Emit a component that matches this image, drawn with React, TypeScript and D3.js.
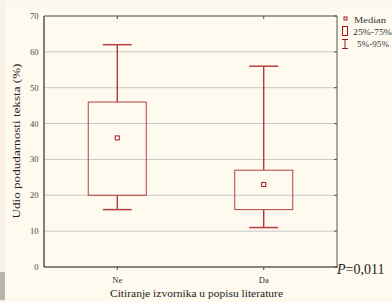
import React from "react";
import * as d3 from "d3";

const categories = ["Ne", "Da"];
const q25 = [20, 16];
const q75 = [46, 27];
const medians = [36, 23];
const p5 = [16, 11];
const p95 = [62, 56];
const yTicks = [0, 10, 20, 30, 40, 50, 60, 70];
const legendItems = ["Median", "25%-75%", "5%-95%"];

const W = 392, H = 302;
const M = { left: 44, right: 337, top: 16, bottom: 267 };
const FONT = "'Liberation Serif', 'DejaVu Serif', serif";

export default function App() {
  const x = d3.scaleBand<string>().domain(categories).range([M.left, M.right]).padding(0);
  const y = d3.scaleLinear().domain([0, 70]).range([M.bottom, M.top]);
  const boxW = 58;
  const capW = 29;
  const boxColor = "#b5403f";
  const whiskColor = "#a01818";
  return (
    <svg width={W} height={H} style={{ position: "absolute", left: 0, top: 0 }} fontFamily={FONT}>
      <rect x={0} y={0} width={W} height={H} fill="#fefaf0" />
      <rect x={0} y={0} width={W} height={7} fill="#fcf8f2" />
      <rect x={0} y={0} width={5} height={H} fill="#fbf1e6" />
      <rect x={0} y={272} width={5} height={28} fill="#b8b4ae" />
      {yTicks.filter(t => t > 0 && t < 70).map(t => (
        <line key={t} x1={M.left} x2={M.right} y1={y(t)} y2={y(t)} stroke="#c8c8c8" strokeWidth={1} />
      ))}
      <line x1={M.left} x2={M.right} y1={M.top} y2={M.top} stroke="#444" strokeWidth={1} />
      <line x1={M.right} x2={M.right} y1={M.top} y2={M.bottom} stroke="#555" strokeWidth={1} />
      <line x1={M.left} x2={M.left} y1={M.top} y2={M.bottom} stroke="#555" strokeWidth={1.5} />
      <line x1={M.left} x2={M.right + 1} y1={M.bottom} y2={M.bottom} stroke="#111" strokeWidth={1.2} />
      {yTicks.map(t => (
        <g key={t}>
          <line x1={M.right - 3} x2={M.right} y1={y(t)} y2={y(t)} stroke="#555" />
          <text x={38.5} y={y(t) + 3} fontSize={8.5} textAnchor="end" fill="#444">{t}</text>
        </g>
      ))}
      {categories.map(c => {
        const cx = x(c)! + x.bandwidth() / 2;
        return (
          <g key={c}>
            <line x1={cx} x2={cx} y1={M.top} y2={M.top + 3} stroke="#444" />
            <line x1={cx} x2={cx} y1={M.bottom} y2={M.bottom + 3} stroke="#444" />
            <text x={cx} y={283} fontSize={8.5} textAnchor="middle" fill="#333">{c}</text>
          </g>
        );
      })}
      {categories.map((c, i) => {
        const cx = x(c)! + x.bandwidth() / 2;
        return (
          <g key={c}>
            <line x1={cx} x2={cx} y1={y(p95[i])} y2={y(q75[i])} stroke={whiskColor} strokeWidth={1.2} />
            <line x1={cx} x2={cx} y1={y(q25[i])} y2={y(p5[i])} stroke={whiskColor} strokeWidth={1.2} />
            <line x1={cx - capW / 2} x2={cx + capW / 2} y1={y(p95[i])} y2={y(p95[i])} stroke={boxColor} strokeWidth={1.5} />
            <line x1={cx - capW / 2} x2={cx + capW / 2} y1={y(p5[i])} y2={y(p5[i])} stroke={boxColor} strokeWidth={1.5} />
            <rect x={cx - boxW / 2} y={y(q75[i])} width={boxW} height={y(q25[i]) - y(q75[i])} fill="none" stroke={boxColor} strokeWidth={1} />
            <rect x={cx - 2} y={y(medians[i]) - 2} width={4} height={4} fill="#fff" stroke={whiskColor} strokeWidth={1} />
          </g>
        );
      })}
      <rect x={344} y={17} width={3} height={3} fill="#fff" stroke={whiskColor} strokeWidth={1} />
      <text x={354} y={23} fontSize={9} textLength={32} lengthAdjust="spacingAndGlyphs" fill="#333">{legendItems[0]}</text>
      <rect x={342.5} y={26.5} width={5} height={9} fill="none" stroke={whiskColor} strokeWidth={1} />
      <text x={353} y={35} fontSize={9} textLength={39} lengthAdjust="spacingAndGlyphs" fill="#333">{legendItems[1]}</text>
      <line x1={342} x2={348} y1={39.5} y2={39.5} stroke={whiskColor} />
      <line x1={345} x2={345} y1={39.5} y2={48.5} stroke={whiskColor} />
      <line x1={342} x2={348} y1={48.5} y2={48.5} stroke={whiskColor} />
      <text x={357} y={47} fontSize={9} textLength={32} lengthAdjust="spacingAndGlyphs" fill="#333">{legendItems[2]}</text>
      <text transform={`translate(20, 141) rotate(-90)`} fontSize={10.5} textAnchor="middle" textLength={155} lengthAdjust="spacingAndGlyphs" fill="#222">Udio podudarnosti teksta (%)</text>
      <text x={196.5} y={297} fontSize={10} textAnchor="middle" textLength={173} lengthAdjust="spacingAndGlyphs" fill="#222">Citiranje izvornika u popisu literature</text>
      <text x={337} y={274} fontSize={14} fill="#222"><tspan fontStyle="italic">P</tspan>=0,011</text>
    </svg>
  );
}
